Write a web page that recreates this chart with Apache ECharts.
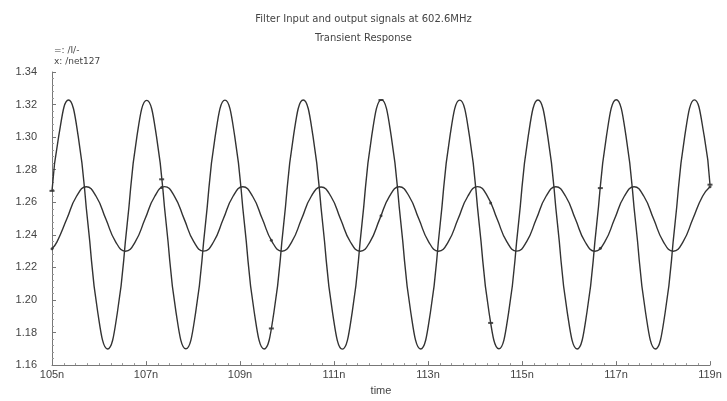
<!DOCTYPE html>
<html><head><meta charset="utf-8">
<script src="https://cdn.jsdelivr.net/npm/echarts@6/dist/echarts.min.js"></script>
<style>html,body{margin:0;padding:0;background:#fff}#c{width:727px;height:401px}</style>
</head><body><div id="c"></div><script>
// time origin of the axis (ns)
const T0 = 105;
const titleText = 'Filter Input and output signals at 602.6MHz';
const subTitleText = 'Transient Response';
const seriesNames = ['/I/-', '/net127'];
const legendMarks = ['=', 'x'];
const xTickLabels = ['105n','107n','109n','111n','113n','115n','117n','119n'];

// input signal "/I/-" (large swing), times in ns
const bigTimes = [105.000, 105.142, 105.350, 105.558, 105.766, 105.974, 106.183, 106.391, 106.599, 106.807,
  107.015, 107.223, 107.431, 107.639, 107.848, 108.056, 108.264, 108.472, 108.680, 108.888,
  109.096, 109.304, 109.513, 109.721, 109.929, 110.137, 110.345, 110.553, 110.761, 110.969,
  111.178, 111.386, 111.594, 111.802, 112.010, 112.218, 112.426, 112.634, 112.843, 113.051,
  113.259, 113.467, 113.675, 113.883, 114.091, 114.299, 114.508, 114.716, 114.924, 115.132,
  115.340, 115.548, 115.756, 115.964, 116.173, 116.381, 116.589, 116.797, 117.005, 117.213,
  117.421, 117.629, 117.838, 118.046, 118.254, 118.462, 118.670, 118.878, 119.000];
const bigVals = [1.2670, 1.3005,
  1.3228, 1.3005, 1.2464, 1.1923, 1.1699, 1.1923, 1.2464, 1.3005,
  1.3226, 1.3004, 1.2465, 1.1924, 1.1700, 1.1922, 1.2463, 1.3004,
  1.3227, 1.3005, 1.2464, 1.1923, 1.1699, 1.1923, 1.2464, 1.3005,
  1.3228, 1.3006, 1.2465, 1.1922, 1.1698, 1.1922, 1.2464, 1.3006,
  1.3229, 1.3005, 1.2464, 1.1923, 1.1699, 1.1923, 1.2465, 1.3005,
  1.3227, 1.3004, 1.2463, 1.1923, 1.1700, 1.1924, 1.2464, 1.3005,
  1.3228, 1.3005, 1.2464, 1.1922, 1.1699, 1.1923, 1.2464, 1.3006,
  1.3230, 1.3006, 1.2465, 1.1923, 1.1699, 1.1923, 1.2464, 1.3005,
  1.3229, 1.3005, 1.2708];

// output signal "/net127" (small swing), times in ns
const smallTimes = [105.000, 105.106, 105.314, 105.522, 105.730, 105.938, 106.146, 106.354, 106.563, 106.771,
  106.979, 107.187, 107.395, 107.603, 107.811, 108.019, 108.228, 108.436, 108.644, 108.852,
  109.060, 109.268, 109.476, 109.684, 109.893, 110.101, 110.309, 110.517, 110.725, 110.933,
  111.141, 111.349, 111.558, 111.766, 111.974, 112.182, 112.390, 112.598, 112.806, 113.014,
  113.223, 113.431, 113.639, 113.847, 114.055, 114.263, 114.471, 114.679, 114.888, 115.096,
  115.304, 115.512, 115.720, 115.928, 116.136, 116.344, 116.553, 116.761, 116.969, 117.177,
  117.385, 117.593, 117.801, 118.009, 118.218, 118.426, 118.634, 118.842, 119.000];
const smallVals = [1.2314, 1.2357, 1.2497, 1.2637,
  1.2695, 1.2637, 1.2497, 1.2357, 1.2299, 1.2357, 1.2497, 1.2637,
  1.2696, 1.2638, 1.2498, 1.2357, 1.2300, 1.2356, 1.2497, 1.2637,
  1.2695, 1.2637, 1.2497, 1.2357, 1.2299, 1.2357, 1.2497, 1.2637,
  1.2694, 1.2637, 1.2496, 1.2356, 1.2299, 1.2357, 1.2498, 1.2638,
  1.2695, 1.2637, 1.2497, 1.2357, 1.2299, 1.2357, 1.2497, 1.2637,
  1.2696, 1.2638, 1.2497, 1.2357, 1.2300, 1.2357, 1.2497, 1.2637,
  1.2695, 1.2637, 1.2497, 1.2356, 1.2299, 1.2357, 1.2497, 1.2637,
  1.2695, 1.2637, 1.2497, 1.2357, 1.2299, 1.2357, 1.2497, 1.2637,
  1.2695];

// sparse trace markers (sitting on the traces)
const markerTimes = [105.000, 107.333, 109.667, 112.000, 114.333, 116.667, 119.000];
const markerBig = [1.2670, 1.2741, 1.1825, 1.3228, 1.1859, 1.2687, 1.2708];
const markerSmall = [1.2314, 1.2690, 1.2367, 1.2517, 1.2596, 1.2317, 1.2695];

const pairs = (ts, vs) => ts.map((t, i) => [t - T0, vs[i]]);
const lineCol = '#333';
const txtCol = '#444';
const ff = 'Liberation Sans';
const ffw = 'DejaVu Sans';

const chart = echarts.init(document.getElementById('c'), null, {renderer: 'canvas'});
chart.setOption({
  animation: false,
  backgroundColor: '#fff',
  title: [
    {text: titleText, left: 'center', top: 9, textStyle: {fontSize: 10, fontWeight: 'normal', color: txtCol, fontFamily: ffw}},
    {text: subTitleText, left: 'center', top: 28, textStyle: {fontSize: 10, fontWeight: 'normal', color: txtCol, fontFamily: ffw}}
  ],
  graphic: [
    {type: 'text', left: 54, top: 46, style: {text: legendMarks[0] + ': ' + seriesNames[0], fontSize: 9, fill: txtCol, fontFamily: ffw}},
    {type: 'text', left: 54, top: 57, style: {text: legendMarks[1] + ': ' + seriesNames[1], fontSize: 9, fill: txtCol, fontFamily: ffw}}
  ],
  grid: {left: 52, right: 17, top: 72, bottom: 31},
  xAxis: {
    type: 'value', min: 0, max: 14, interval: 2,
    name: 'time', nameLocation: 'middle', nameGap: 14,
    nameTextStyle: {fontSize: 11, color: txtCol, fontFamily: ff},
    axisLine: {lineStyle: {color: '#777', width: 1}},
    axisTick: {inside: true, length: 4, lineStyle: {color: '#777'}},
    minorTick: {show: true, splitNumber: 8, length: 2, lineStyle: {color: '#999'}},
    splitLine: {show: false},
    axisLabel: {margin: 4, fontSize: 11, color: txtCol, fontFamily: ff,
      formatter: v => xTickLabels[Math.round(v / 2)]}
  },
  yAxis: {
    type: 'value', min: 1.16, max: 1.34, interval: 0.02,
    axisLine: {show: true, lineStyle: {color: '#777', width: 1}},
    axisTick: {show: true, inside: true, length: 4, lineStyle: {color: '#777'}},
    minorTick: {show: true, splitNumber: 5, length: 2, lineStyle: {color: '#999'}},
    splitLine: {show: false},
    axisLabel: {margin: 15, fontSize: 11, color: txtCol, fontFamily: ff,
      formatter: v => v.toFixed(2)}
  },
  series: [
    {name: seriesNames[0], type: 'line', data: pairs(bigTimes, bigVals), smooth: 0.5, showSymbol: false,
      lineStyle: {color: lineCol, width: 1.4}},
    {name: seriesNames[1], type: 'line', data: pairs(smallTimes, smallVals), smooth: 0.5, showSymbol: false,
      lineStyle: {color: lineCol, width: 1.4}},
    {type: 'scatter', data: pairs(markerTimes, markerBig), symbol: 'rect', symbolSize: [5, 2],
      itemStyle: {color: '#222'}},
    {type: 'scatter', data: pairs(markerTimes, markerSmall), symbol: 'circle', symbolSize: 3,
      itemStyle: {color: '#222'}}
  ]
});
</script></body></html>
